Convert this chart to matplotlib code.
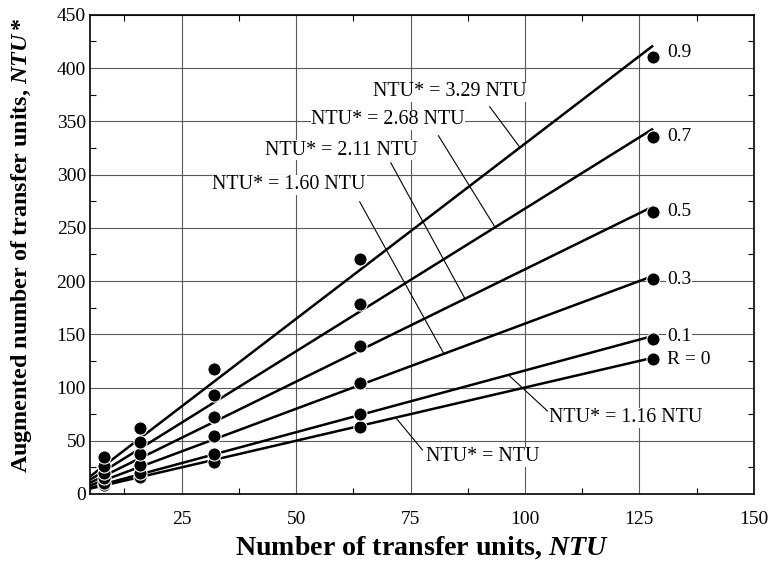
import matplotlib
matplotlib.use('Agg')
import matplotlib.pyplot as plt
from matplotlib.ticker import MultipleLocator

plt.rcParams['font.family'] = 'Liberation Serif'
plt.rcParams['mathtext.fontset'] = 'custom'
plt.rcParams['mathtext.rm'] = 'Liberation Serif:bold'
plt.rcParams['mathtext.it'] = 'Liberation Serif:italic:bold'
plt.rcParams['mathtext.bf'] = 'Liberation Serif:bold'

# measured points
ntu = [8, 16, 32, 64, 128]
r_labels = ['R = 0', '0.1', '0.3', '0.5', '0.7', '0.9']
ntu_star = [
    [8, 16, 30, 63, 127],      # R = 0
    [10, 20, 37.5, 75, 146],   # 0.1
    [15, 27, 54.5, 104, 202],  # 0.3
    [20, 38, 72.5, 139, 265],  # 0.5
    [26, 49, 93, 178.5, 335],  # 0.7
    [35, 62, 117, 221, 410],   # 0.9
]
# fitted slopes
slopes = [1.0, 1.16, 1.60, 2.11, 2.68, 3.29]
fit_labels = ['NTU* = NTU', 'NTU* = 1.16 NTU', 'NTU* = 1.60 NTU',
              'NTU* = 2.11 NTU', 'NTU* = 2.68 NTU', 'NTU* = 3.29 NTU']
label_y = [126, 147.5, 201, 265, 335.5, 415]

# annotation text positions and leader lines (data coords)
text_pos = [(90.8, 34.8), (122.1, 71.4), (48.5, 290.4),
            (59.8, 323), (70.1, 351.5), (83.5, 377.8)]
leader_from = [(77.6, 41.4), (104.9, 78), (63.9, 274.4),
               (70.7, 311), (81.1, 336.5), (92.3, 363.7)]
leader_to = [(72, 70.5), (96.6, 111), (82.2, 132.5),
             (86.8, 184.2), (93.4, 251), (98.8, 326.1)]

fig = plt.figure(figsize=(7.7, 5.63), dpi=100)
ax = fig.add_axes([0.117, 0.1226, 0.862, 0.851])

x0, x1 = 5, 128
for s in slopes:
    ax.plot([x0, x1], [s * x0, s * x1], color='black', lw=1.8, zorder=3,
            solid_capstyle='butt')

for ys in ntu_star:
    ax.plot(ntu, ys, 'o', color='black', ms=9.5, mec='white', mew=0.8, zorder=4)

for lab, y in zip(r_labels, label_y):
    ax.text(131, y, lab, fontsize=14, ha='left', va='center', zorder=5,
            bbox=dict(facecolor='white', edgecolor='none', pad=0.5))

for lab, (tx, ty), (fx, fy), (ex, ey) in zip(fit_labels, text_pos, leader_from, leader_to):
    ax.plot([fx, ex], [fy, ey], color='black', lw=0.8, zorder=2)
    ax.text(tx, ty, lab, fontsize=14.4, ha='center', va='center', zorder=5,
            bbox=dict(facecolor='white', edgecolor='none', pad=0.5))

ax.set_xlim(5, 150)
ax.set_ylim(0, 450)
ax.xaxis.set_major_locator(MultipleLocator(25))
ax.xaxis.set_minor_locator(MultipleLocator(12.5))
ax.yaxis.set_major_locator(MultipleLocator(50))
ax.yaxis.set_minor_locator(MultipleLocator(25))
ax.tick_params(which='both', direction='in', top=True, right=True, labelsize=14)
ax.tick_params(which='major', length=0)
ax.tick_params(axis='x', which='major', pad=12)
ax.tick_params(axis='y', which='major', pad=3)
ax.tick_params(which='minor', length=4, width=0.8)
ax.grid(True, which='major', color='0.35', lw=0.8)
ax.set_axisbelow(True)
for sp in ax.spines.values():
    sp.set_linewidth(1.2)

ax.set_xlabel(r'Number of transfer units, $\mathit{NTU}$', fontsize=20.2, fontweight='bold', labelpad=5)
ax.set_ylabel(r'Augmented number of transfer units, $\mathit{NTU*}$', fontsize=17.3, fontweight='bold')
ax.yaxis.set_label_coords(-0.084, 0.518)

fig.savefig('out.png', dpi=100)
